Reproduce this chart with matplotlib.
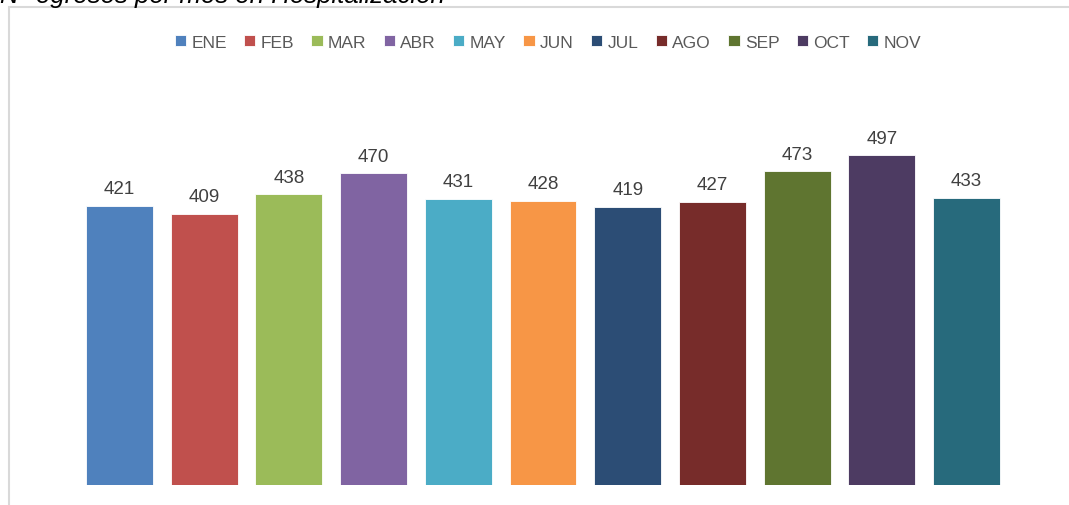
import matplotlib.pyplot as plt
from matplotlib.patches import Rectangle

# Egresos por mes en Hospitalización
months = ['ENE', 'FEB', 'MAR', 'ABR', 'MAY', 'JUN', 'JUL', 'AGO', 'SEP', 'OCT', 'NOV']
egresos = [421, 409, 438, 470, 431, 428, 419, 427, 473, 497, 433]
colors = ['#4F81BD', '#C0504D', '#9BBB59', '#8064A2', '#4BACC6', '#F79646',
          '#2C4D75', '#772C2A', '#5F7530', '#4D3B62', '#276A7C']

plt.rcParams['font.family'] = ['Liberation Sans', 'DejaVu Sans']

fig = plt.figure(figsize=(10.69, 5.06), dpi=100)
ax = fig.add_axes([77 / 1069, 20 / 506, 932 / 1069, 398 / 506])

for i, (m, v, c) in enumerate(zip(months, egresos, colors)):
    ax.bar(i, v, width=0.79, color=c, label=m, edgecolor='white', linewidth=0.6)
    ax.text(i, v + 13, str(v), ha='center', va='bottom', fontsize=13.5, color='#404040')

ax.set_xlim(-0.5, len(months) - 0.5)
ax.set_ylim(0, 600)
ax.axis('off')

fig.legend(loc='center', bbox_to_anchor=(548 / 1069, 1 - 43 / 506), ncol=len(months),
           frameon=False, fontsize=12.5, labelcolor='#595959',
           handlelength=0.65, handleheight=0.65, handletextpad=0.3, columnspacing=1.0)

# chart frame (partly cut off at right and bottom)
fig.patches.append(Rectangle((9 / 1069, -0.1), 1.2, 1 - 8 / 506 + 0.1,
                             transform=fig.transFigure, fill=False,
                             edgecolor='#D9D9D9', linewidth=1.5))

# title text above the frame, cut off at the top as in the source
fig.text(0.0, 1 - 3 / 506, 'N° egresos por mes en Hospitalización', fontsize=18.5,
         style='italic', color='black', ha='left', va='baseline')

fig.savefig('out.png', dpi=100)
